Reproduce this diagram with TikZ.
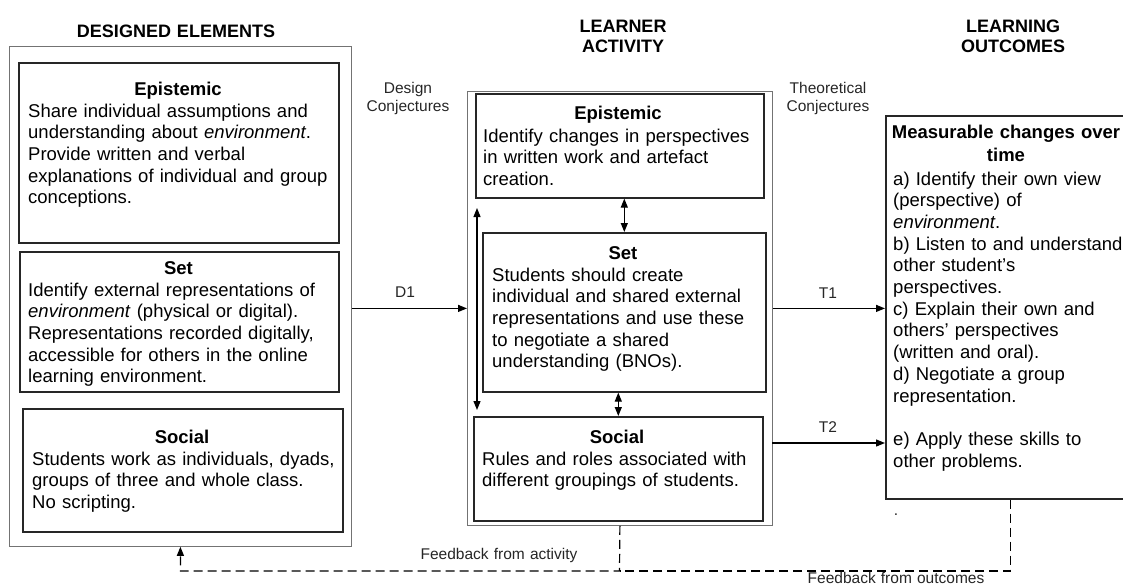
\documentclass[tikz,border=0pt]{standalone}
\usepackage{fontspec}
\setmainfont{Liberation Sans}
\usetikzlibrary{arrows.meta}

\begin{document}
\begin{tikzpicture}[x=1pt,y=-1pt,
                    outer box/.style={draw=black!55,line width=0.8pt,anchor=north west,inner sep=0pt},
                    inner box/.style={draw=black!85,line width=1.6pt,anchor=north west,inner sep=0pt},
                    title text/.style={anchor=base,inner sep=0pt,text width=220,align=center,
                      font=\fontsize{18}{20.5}\selectfont\bfseries},
                    head text/.style={anchor=base,inner sep=0pt,font=\fontsize{18.5}{21.7}\selectfont\bfseries},
                    body text/.style={anchor=base west,inner sep=0pt,text width=320,align=left,
                      font=\fontsize{18.5}{21.7}\selectfont},
                    note text/.style={anchor=base,inner sep=0pt,text width=160,align=center,
                      font=\fontsize{15.5}{18}\selectfont,text=black!85},
                    arrow/.style={-{Triangle[length=9pt,width=7pt]},line width=1.2pt},
                    both arrow/.style={{Triangle[length=9pt,width=7pt]}-{Triangle[length=9pt,width=7pt]},line width=1.2pt},
                    feedback/.style={dash pattern=on 9pt off 5pt,line width=1.3pt}
                   ]
   \clip (0,0) rectangle (1123,587);

   % designed elements
   \node[title text] (ltitle) at (176,37) {DESIGNED ELEMENTS};
   \node[outer box,minimum width=342,minimum height=500] (louter) at (9,46) {};
   \node[inner box,minimum width=320,minimum height=180] (lepi) at (18,62) {};
   \node[inner box,minimum width=319,minimum height=140] (lset) at (19,251) {};
   \node[inner box,minimum width=320,minimum height=123] (lsoc) at (22,408) {};

   \node[head text] (lepih) at (178,95) {Epistemic};
   \node[body text] (lepib) at (28,117) {Share individual assumptions and\\
     understanding about \textit{environment}.\\
     Provide written and verbal\\
     explanations of individual and group\\
     conceptions.};
   \node[head text] (lseth) at (178.5,274) {Set};
   \node[body text] (lsetb) at (28,296) {Identify external representations of\\
     \textit{environment} (physical or digital).\\
     Representations recorded digitally,\\
     accessible for others in the online\\
     learning environment.};
   \node[head text] (lsoch) at (182,443) {Social};
   \node[body text] (lsocb) at (32,465) {Students work as individuals, dyads,\\
     groups of three and whole class.\\
     No scripting.};

   % learner activity
   \node[title text] (mtitle) at (623,32) {LEARNER\\ACTIVITY};
   \node[outer box,minimum width=305,minimum height=434] (mouter) at (467,91) {};
   \node[inner box,minimum width=288,minimum height=104] (mepi) at (475,93) {};
   \node[inner box,minimum width=283,minimum height=159] (mset) at (482,232) {};
   \node[inner box,minimum width=289,minimum height=104] (msoc) at (473,416) {};

   \node[head text] (mepih) at (618,119) {Epistemic};
   \node[body text] (mepib) at (483,142) {Identify changes in perspectives\\
     in written work and artefact\\
     creation.};
   \node[head text] (mseth) at (623,259) {Set};
   \node[body text] (msetb) at (492,281) {Students should create\\
     individual and shared external\\
     representations and use these\\
     to negotiate a shared\\
     understanding (BNOs).};
   \node[head text] (msoch) at (617,443) {Social};
   \node[body text] (msocb) at (482,465) {Rules and roles associated with\\
     different groupings of students.};

   % learning outcomes
   \node[title text] (rtitle) at (1013,32) {LEARNING\\OUTCOMES};
   \node[inner box,minimum width=250,minimum height=383] (rbox) at (885,115) {};
   \node[head text,text width=250,align=center,font=\fontsize{18.5}{23.5}\selectfont\bfseries]
     (rboxh) at (1006,138) {Measurable changes over\\time};
   \node[body text,text width=240] (rboxb) at (893,185) {a) Identify their own view\\
     (perspective) of\\
     \textit{environment}.\\
     b) Listen to and understand\\
     other student's\\
     perspectives.\\
     c) Explain their own and\\
     others' perspectives\\
     (written and oral).\\
     d) Negotiate a group\\
     representation.\\[21.7pt]
     e) Apply these skills to\\
     other problems.};
   \node[note text] (rdot) at (896,515) {.};

   % conjectures
   \node[note text] (dconj) at (408,93) {Design\\Conjectures};
   \node[note text] (tconj) at (828,93) {Theoretical\\Conjectures};
   \node[note text] (d1) at (405,297) {D1};
   \node[note text] (t1) at (828,298) {T1};
   \node[note text] (t2) at (828,432) {T2};

   \coordinate (t2s) at (772,443);
   \coordinate (lup) at (477,208);
   \coordinate (ldown) at (477,410);
   \coordinate (fb) at (619.5,571);

   \path[arrow]%
     (louter.east |- mouter.west) edge (mouter.west)
     (mouter.east) edge (rbox.west |- mouter.east)
     (t2s) edge (rbox.west |- t2s);
   \path[both arrow]%
     (mepi.south -| mset.north) edge (mset.north)
     (mset.south -| msoc.north) edge (msoc.north)
     (lup) edge (ldown);

   % feedback loops
   \draw[feedback,arrow] (mouter.south) -- (fb) -| (louter.south);
   \draw[feedback] (rbox.south) |- (fb);
   \node[note text,text width=200] (fbact) at (499,559) {Feedback from activity};
   \node[note text,text width=200] (fbout) at (896,583) {Feedback from outcomes};
\end{tikzpicture}
\end{document}
